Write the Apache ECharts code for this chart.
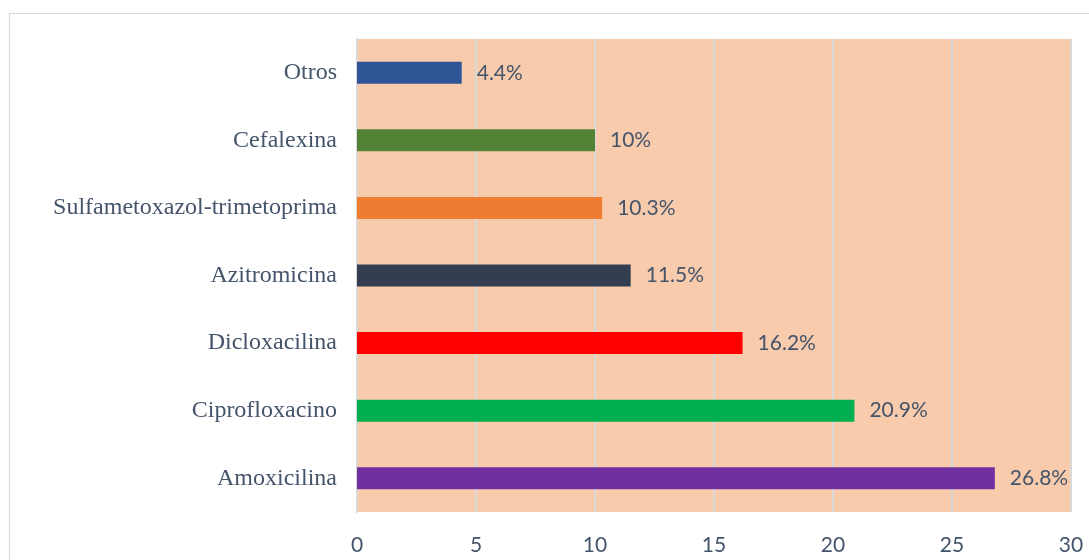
<!DOCTYPE html>
<html><head><meta charset="utf-8">
<script src="https://cdn.jsdelivr.net/npm/echarts@6/dist/echarts.min.js"></script>
<style>html,body{margin:0;padding:0;background:#fff}#c{width:1089px;height:560px}</style>
</head><body><div id="c"></div>
<script>
const categories = ["Amoxicilina","Ciprofloxacino","Dicloxacilina","Azitromicina","Sulfametoxazol-trimetoprima","Cefalexina","Otros"];
const values = [26.8, 20.9, 16.2, 11.5, 10.3, 10, 4.4];
const colors = ["#7030A0","#00B050","#FF0000","#333F50","#ED7D31","#548235","#2F5597"];
const xTicks = [0,5,10,15,20,25,30];

const chart = echarts.init(document.getElementById('c'));
chart.setOption({
  animation:false,
  backgroundColor:'#fff',
  graphic:[{type:'rect',shape:{x:9.5,y:13.5,width:1200,height:700},style:{fill:null,stroke:'#D9D9D9',lineWidth:1.2},silent:true,z:-1}],
  grid:{left:357,right:18,top:39,bottom:48,backgroundColor:'#F8CBAD',show:true,borderWidth:0},
  xAxis:{type:'value',min:xTicks[0],max:xTicks[xTicks.length-1],interval:5,
    axisLine:{show:false},axisTick:{show:false},
    splitLine:{show:true,lineStyle:{color:'#D9D9D9',width:2}},
    axisLabel:{color:'#44546A',fontFamily:'Lato, "Open Sans", sans-serif',fontSize:21,margin:23}},
  yAxis:{type:'category',data:categories,
    axisLine:{show:true,lineStyle:{color:'#D9D9D9',width:2}},axisTick:{show:false},
    axisLabel:{color:'#44546A',fontFamily:'"Liberation Serif","Times New Roman",serif',fontSize:24,margin:20}},
  series:[{type:'bar',barWidth:22,
    data:values.map((v,i)=>({value:v,itemStyle:{color:colors[i]}})),
    label:{show:true,position:'right',distance:15,color:'#44546A',fontFamily:'Lato, "Open Sans", sans-serif',fontSize:21,
      formatter:p=>p.value+'%'}}]
});
</script></body></html>
